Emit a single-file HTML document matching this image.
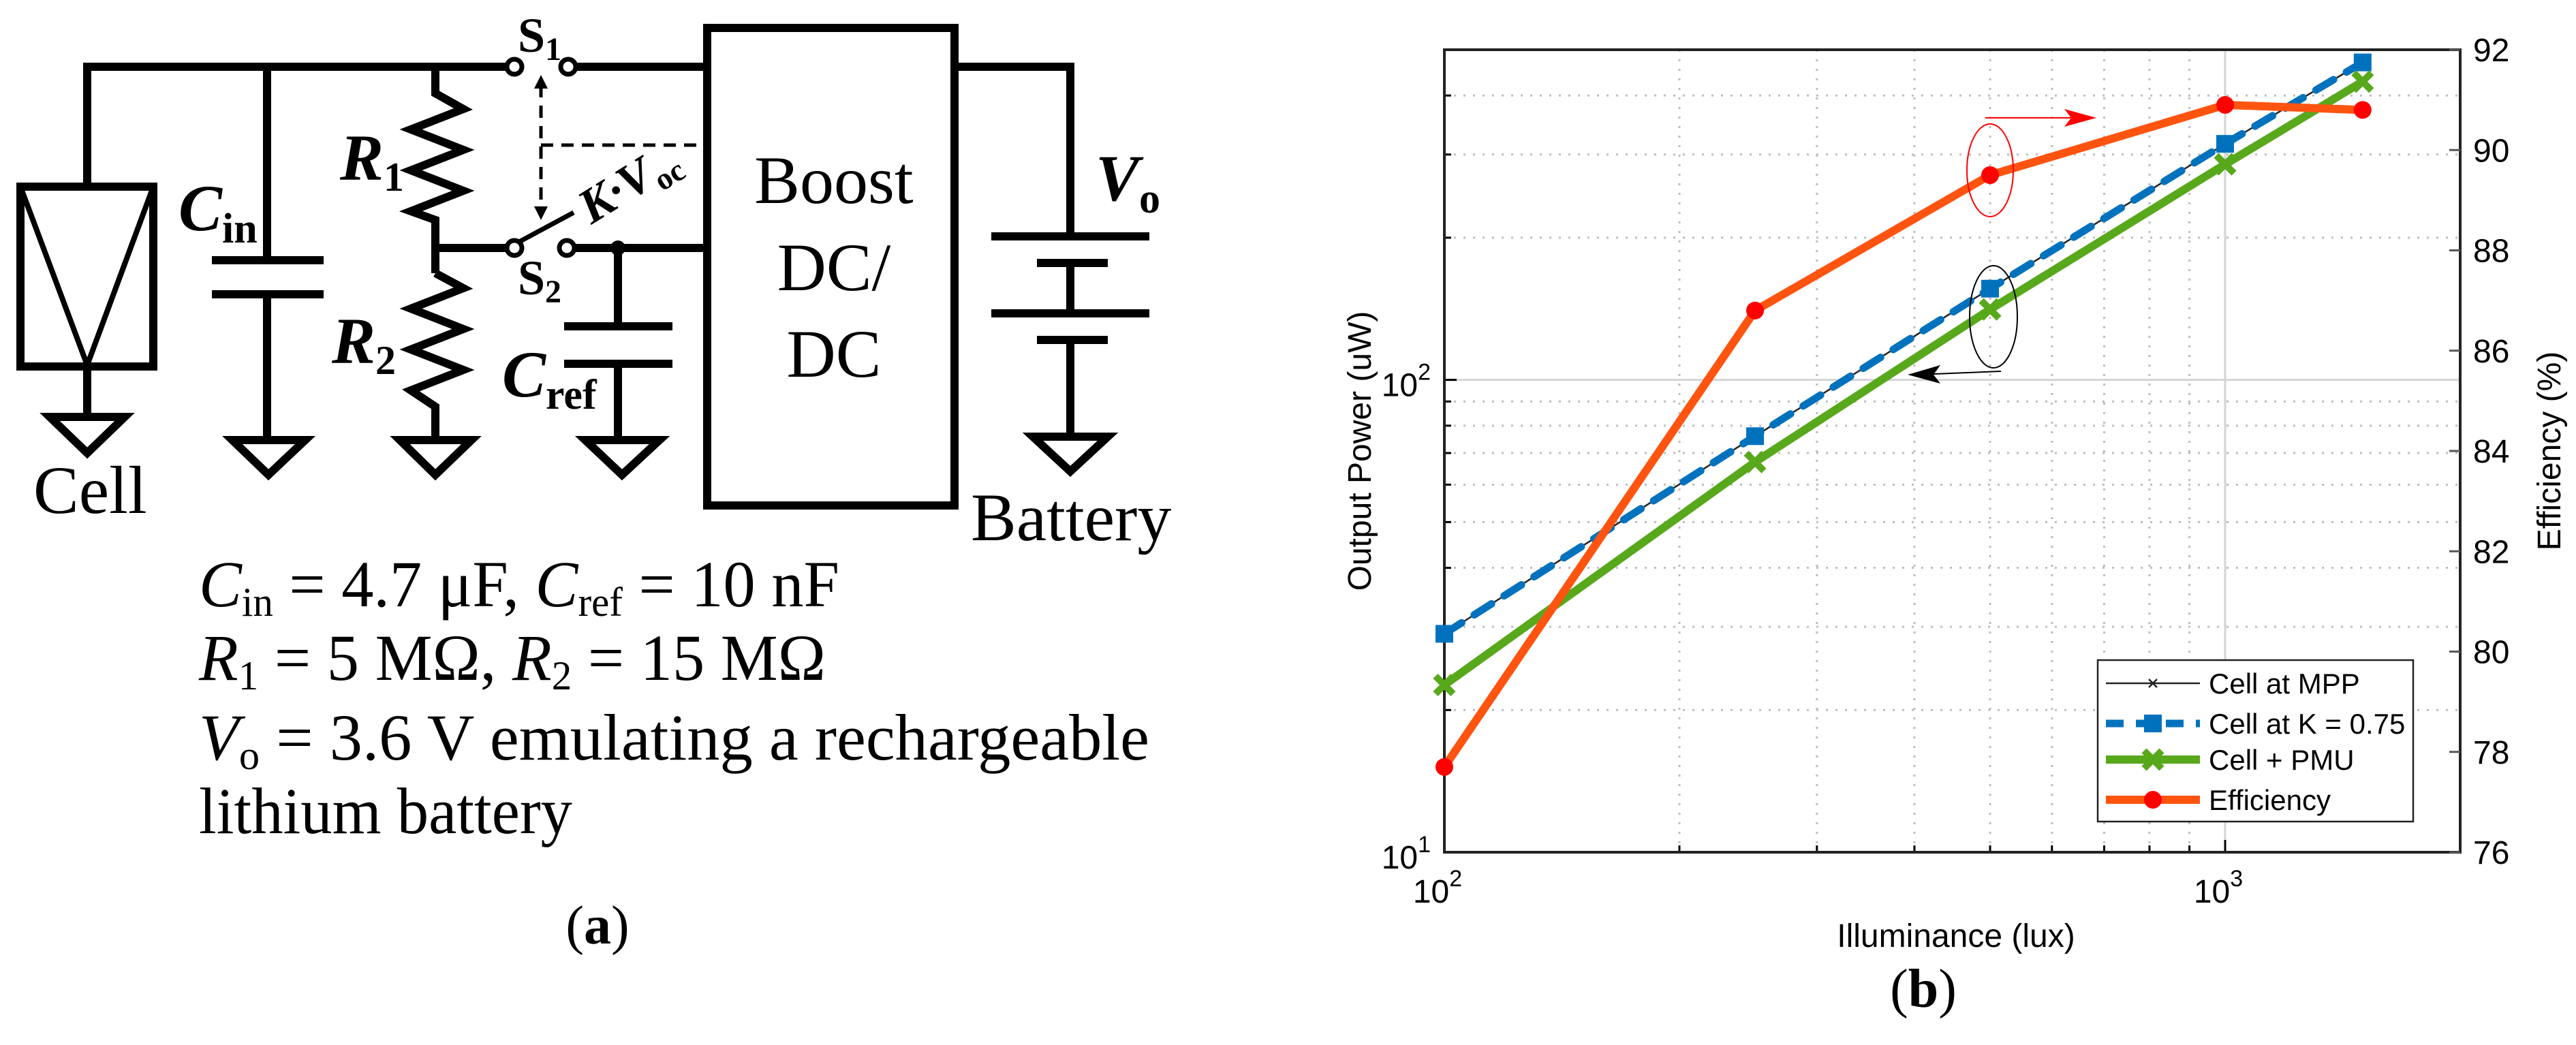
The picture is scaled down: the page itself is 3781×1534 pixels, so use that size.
<!DOCTYPE html>
<html><head><meta charset="utf-8"><style>
html,body{margin:0;padding:0;background:#fff;}
svg{display:block;}
</style></head><body>
<svg id="fig" width="3781" height="1534" viewBox="0 0 3781 1534" xmlns="http://www.w3.org/2000/svg">
<g id="circuit" fill="none" stroke="#000" stroke-width="12">
  <rect x="30" y="274" width="195" height="264"/>
  <polyline points="30,274 128,536 225,274" stroke-width="8"/>
  <polyline points="128,274 128,98 755,98"/>
  <line x1="128" y1="538" x2="128" y2="612"/>
  <polygon points="73,612 183,612 128,665"/>
  <line x1="392" y1="98" x2="392" y2="382"/>
  <line x1="311" y1="382" x2="475" y2="382"/>
  <line x1="311" y1="432" x2="475" y2="432"/>
  <line x1="392" y1="432" x2="392" y2="646"/>
  <polygon points="341,646 448,646 394,697"/>
  <polyline points="639,98 639,137 680,160 603,190 680,220 603,250 680,280 603,310 639,323 639,401"/>
  <line x1="639" y1="364" x2="755" y2="364"/>
  <polyline points="639,401 680,423 603,453 680,483 603,513 680,543 603,573 639,597 639,646"/>
  <polygon points="587,646 692,646 639,697"/>
  <circle cx="755" cy="98" r="11" stroke-width="7" fill="#fff"/>
  <circle cx="834" cy="98" r="11" stroke-width="7" fill="#fff"/>
  <line x1="845" y1="98" x2="1038" y2="98"/>
  <circle cx="755" cy="364" r="11" stroke-width="7" fill="#fff"/>
  <circle cx="832" cy="364" r="11" stroke-width="7" fill="#fff"/>
  <line x1="760" y1="356" x2="842" y2="312" stroke-width="7"/>
  <line x1="843" y1="364" x2="1038" y2="364"/>
  <circle cx="907" cy="364" r="11" fill="#000" stroke="none"/>
  <line x1="907" y1="364" x2="907" y2="479"/>
  <line x1="828" y1="479" x2="987" y2="479"/>
  <line x1="828" y1="534" x2="987" y2="534"/>
  <line x1="907" y1="534" x2="907" y2="646"/>
  <polygon points="859,646 968,646 913,697"/>
  <line x1="794" y1="125" x2="794" y2="310" stroke-width="5" stroke-dasharray="18,12"/>
  <line x1="794" y1="213" x2="1038" y2="213" stroke-width="5" stroke-dasharray="18,12"/>
  <polygon points="794,110 784,130 804,130" fill="#000" stroke="none"/>
  <polygon points="794,323 784,303 804,303" fill="#000" stroke="none"/>
  <rect x="1038" y="41" width="363" height="701"/>
  <polyline points="1401,98 1571,98 1571,347"/>
  <line x1="1455" y1="347" x2="1687" y2="347"/>
  <line x1="1522" y1="386" x2="1626" y2="386"/>
  <line x1="1571" y1="386" x2="1571" y2="460"/>
  <line x1="1455" y1="460" x2="1687" y2="460"/>
  <line x1="1522" y1="499" x2="1626" y2="499"/>
  <line x1="1571" y1="499" x2="1571" y2="641"/>
  <polygon points="1516,641 1626,641 1571,692"/>
</g>
<g font-family="Liberation Serif, serif" fill="#000">
  <text x="49" y="753" font-size="100">Cell</text>
  <text x="262" y="338" font-size="96" font-weight="bold" font-style="italic">C<tspan font-size="62" font-style="normal" dy="18">in</tspan></text>
  <text x="499" y="264" font-size="96" font-weight="bold" font-style="italic">R<tspan font-size="60" font-style="normal" dy="16">1</tspan></text>
  <text x="487" y="533" font-size="96" font-weight="bold" font-style="italic">R<tspan font-size="60" font-style="normal" dy="16">2</tspan></text>
  <text x="760" y="76" font-size="72" font-weight="bold">S<tspan font-size="48" dy="12">1</tspan></text>
  <text x="760" y="432" font-size="72" font-weight="bold">S<tspan font-size="48" dy="12">2</tspan></text>
  <text x="0" y="0" font-size="72" font-weight="bold" font-style="italic" transform="translate(868,330) rotate(-32)">K·V<tspan font-size="46" font-style="normal" dy="14">oc</tspan></text>
  <text x="737" y="582" font-size="96" font-weight="bold" font-style="italic">C<tspan font-size="62" font-style="normal" dy="18">ref</tspan></text>
  <text x="1224" y="298" font-size="100" text-anchor="middle">Boost</text>
  <text x="1224" y="426" font-size="100" text-anchor="middle">DC/</text>
  <text x="1224" y="553" font-size="100" text-anchor="middle">DC</text>
  <text x="1608" y="294" font-size="96" font-weight="bold" font-style="italic">V<tspan font-size="62" font-style="normal" dy="18">o</tspan></text>
  <text x="1425" y="793" font-size="100">Battery</text>
  <g font-size="96">
    <text x="292" y="890" textLength="940" lengthAdjust="spacingAndGlyphs"><tspan font-style="italic">C</tspan><tspan font-size="60" dy="14">in</tspan><tspan dy="-14"> = 4.7 μF, </tspan><tspan font-style="italic">C</tspan><tspan font-size="60" dy="14">ref</tspan><tspan dy="-14"> = 10 nF</tspan></text>
    <text x="292" y="998" textLength="920" lengthAdjust="spacingAndGlyphs"><tspan font-style="italic">R</tspan><tspan font-size="60" dy="14">1</tspan><tspan dy="-14"> = 5 MΩ, </tspan><tspan font-style="italic">R</tspan><tspan font-size="60" dy="14">2</tspan><tspan dy="-14"> = 15 MΩ</tspan></text>
    <text x="292" y="1115" textLength="1395" lengthAdjust="spacingAndGlyphs"><tspan font-style="italic">V</tspan><tspan font-size="60" dy="14">o</tspan><tspan dy="-14"> = 3.6 V emulating a rechargeable</tspan></text>
    <text x="292" y="1223" textLength="548" lengthAdjust="spacingAndGlyphs">lithium battery</text>
  </g>
  <text x="877" y="1385" font-size="80" text-anchor="middle">(<tspan font-weight="bold">a</tspan>)</text>
</g>
<g id="chart"></g>
</svg>
<script>
const categories = [100, 250, 500, 1000, 1500];
const mppValues = [29, 76, 156, 316, 470];
const kValues = [29, 76, 156, 316, 470];
const pmuValues = [22.6, 67, 141, 286, 428];
const effValues = [77.7, 86.8, 89.5, 90.9, 90.8];
const xTickLabels = ["10", "10"];
const xTickExps = ["2", "3"];
const yTickExps = ["1", "2"];
const effTicks = [76, 78, 80, 82, 84, 86, 88, 90, 92];

const NS = "http://www.w3.org/2000/svg";
const L = 2120, R = 3611, T = 73, B = 1251;
const xmin = 100, xmax = 2000, ymin = 10, ymax = 500;
function xs(v){ return L + (Math.log10(v) - Math.log10(xmin)) / (Math.log10(xmax) - Math.log10(xmin)) * (R - L); }
function ys(v){ return B - (Math.log10(v) - Math.log10(ymin)) / (Math.log10(ymax) - Math.log10(ymin)) * (B - T); }
function ye(v){ return B - (v - 76) / (92 - 76) * (B - T); }
const g = document.getElementById("chart");
function mk(tag, attrs, parent){ const e = document.createElementNS(NS, tag); for (const k in attrs) e.setAttribute(k, attrs[k]); (parent || g).appendChild(e); return e; }

const grid = mk("g", {});


for (let d = 10; d <= 1000; d *= 10) {
  for (let m = 1; m <= 9; m++) {
    const v = d * m;
    const major = (m === 1);
    if (v > xmin && v < xmax) {
      mk("line", {x1: xs(v), x2: xs(v), y1: T, y2: B, stroke: major ? "#d4d4d4" : "#bdbdbd", "stroke-width": 3, "stroke-dasharray": major ? "" : "3,11"}, grid);
      mk("line", {x1: xs(v), x2: xs(v), y1: B, y2: B - (major ? 18 : 10), stroke: "#000", "stroke-width": 3}, grid);
    }
    if (v > ymin && v < ymax) {
      mk("line", {x1: L, x2: R, y1: ys(v), y2: ys(v), stroke: major ? "#d4d4d4" : "#bdbdbd", "stroke-width": 3, "stroke-dasharray": major ? "" : "3,11"}, grid);
      mk("line", {x1: L, x2: L + (major ? 18 : 10), y1: ys(v), y2: ys(v), stroke: "#000", "stroke-width": 3}, grid);
    }
  }
}
const box = mk("rect", {x: L, y: T, width: R - L, height: B - T, fill: "none", stroke: "#222", "stroke-width": 4});



const tickG = mk("g", {"font-family": "Liberation Sans, sans-serif", fill: "#000"});


[100, 1000].forEach((v, i) => {
  const t = mk("text", {x: xs(v) - 10, y: 1325, "font-size": 48, "text-anchor": "middle"}, tickG);
  
  
  t.innerHTML = xTickLabels[i] + '<tspan font-size="34" dy="-24">' + xTickExps[i] + '</tspan>';
});
[10, 100].forEach((v, i) => {
  const t = mk("text", {x: 2100, y: ys(v) + 24, "font-size": 48, "text-anchor": "end"}, tickG);
  
  
  t.innerHTML = '10<tspan font-size="34" dy="-24">' + yTickExps[i] + '</tspan>';
});
effTicks.forEach(v => {
  mk("line", {x1: R, x2: R - 16, y1: ye(v), y2: ye(v), stroke: "#555", "stroke-width": 3}, tickG);
  const t = mk("text", {x: 3630, y: ye(v) + 17, "font-size": 48}, tickG);
  
  
  t.textContent = v;
});
const xl = mk("text", {x: 2871, y: 1390, "font-size": 48, "text-anchor": "middle", "font-family": "Liberation Sans, sans-serif"});


xl.textContent = "Illuminance (lux)";
const yl = mk("text", {x: 0, y: 0, "font-size": 48, "text-anchor": "middle", "font-family": "Liberation Sans, sans-serif", transform: "translate(2012," + ((T + B) / 2) + ") rotate(-90)"});


yl.textContent = "Output Power (uW)";
const yr = mk("text", {x: 0, y: 0, "font-size": 48, "text-anchor": "middle", "font-family": "Liberation Sans, sans-serif", transform: "translate(3758," + ((T + B) / 2) + ") rotate(-90)"});


yr.textContent = "Efficiency (%)";
const pb = mk("text", {x: 2823, y: 1478, "font-size": 80, "text-anchor": "middle", "font-family": "Liberation Serif, serif"});


pb.innerHTML = '(<tspan font-weight="bold">b</tspan>)';

function pts(vals, f){ return categories.map((c, i) => xs(c) + "," + f(vals[i])).join(" "); }

const mpp = mk("polyline", {points: pts(mppValues, ys), fill: "none", stroke: "#222", "stroke-width": 2.5});


const kl = mk("polyline", {points: pts(kValues, ys), fill: "none", stroke: "#0072BD", "stroke-width": 11, "stroke-dasharray": "30,22", "stroke-linecap": "round"});


const pl = mk("polyline", {points: pts(pmuValues, ys), fill: "none", stroke: "#58A81C", "stroke-width": 12});


const el = mk("polyline", {points: pts(effValues, ye), fill: "none", stroke: "#FF5410", "stroke-width": 12, "stroke-linejoin": "round"});



categories.forEach((c, i) => {
  const x = xs(c);
  const sq = mk("rect", {x: x - 13, y: ys(kValues[i]) - 13, width: 26, height: 26, fill: "#0072BD"});
  
  
  const y = ys(pmuValues[i]);
  const cr = mk("path", {d: "M" + (x - 13) + "," + (y - 13) + "L" + (x + 13) + "," + (y + 13) + "M" + (x + 13) + "," + (y - 13) + "L" + (x - 13) + "," + (y + 13), stroke: "#58A81C", "stroke-width": 10});
  
  
  const dot = mk("circle", {cx: x, cy: ye(effValues[i]), r: 13, fill: "#FF0000"});
  
  
});

const ann = mk("g", {fill: "none"});


mk("ellipse", {cx: 2921, cy: 250, rx: 34, ry: 68, stroke: "#FF0000", "stroke-width": 2}, ann);
mk("line", {x1: 2914, y1: 173, x2: 3060, y2: 173, stroke: "#FF0000", "stroke-width": 2}, ann);
mk("polygon", {points: "3077,173 3030,160 3040,173 3030,186", fill: "#FF0000"}, ann);
mk("ellipse", {cx: 2926, cy: 465, rx: 35, ry: 75, stroke: "#000", "stroke-width": 2}, ann);
mk("line", {x1: 2937, y1: 545, x2: 2815, y2: 550, stroke: "#000", "stroke-width": 2}, ann);
mk("polygon", {points: "2800,550 2848,536 2838,550 2848,563", fill: "#000"}, ann);

const lg = mk("g", {});


mk("rect", {x: 3079, y: 969, width: 463, height: 237, fill: "#fff", stroke: "#222", "stroke-width": 2.5}, lg);
const legendNames = ["Cell at MPP", "Cell at K = 0.75", "Cell + PMU", "Efficiency"];
const rows = [1003, 1062, 1115, 1174];
legendNames.forEach((n, i) => {
  const y = rows[i], x1 = 3091, x2 = 3229, xm = 3160;
  if (i === 0) {
    mk("line", {x1, x2, y1: y, y2: y, stroke: "#222", "stroke-width": 2.5}, lg);
    mk("path", {d: `M${xm-6},${y-6}L${xm+6},${y+6}M${xm+6},${y-6}L${xm-6},${y+6}`, stroke: "#222", "stroke-width": 2.5}, lg);
  } else if (i === 1) {
    mk("line", {x1, x2, y1: y, y2: y, stroke: "#0072BD", "stroke-width": 11, "stroke-dasharray": "26,18"}, lg);
    mk("rect", {x: xm - 13, y: y - 13, width: 26, height: 26, fill: "#0072BD"}, lg);
  } else if (i === 2) {
    mk("line", {x1, x2, y1: y, y2: y, stroke: "#58A81C", "stroke-width": 12}, lg);
    mk("path", {d: `M${xm-13},${y-13}L${xm+13},${y+13}M${xm+13},${y-13}L${xm-13},${y+13}`, stroke: "#58A81C", "stroke-width": 10}, lg);
  } else {
    mk("line", {x1, x2, y1: y, y2: y, stroke: "#FF5410", "stroke-width": 12}, lg);
    mk("circle", {cx: xm, cy: y, r: 13, fill: "#FF0000"}, lg);
  }
  const t = mk("text", {x: 3242, y: y + 15, "font-size": 42, "font-family": "Liberation Sans, sans-serif"}, lg);
  
  
  t.textContent = n;
});
</script>
</body></html>
